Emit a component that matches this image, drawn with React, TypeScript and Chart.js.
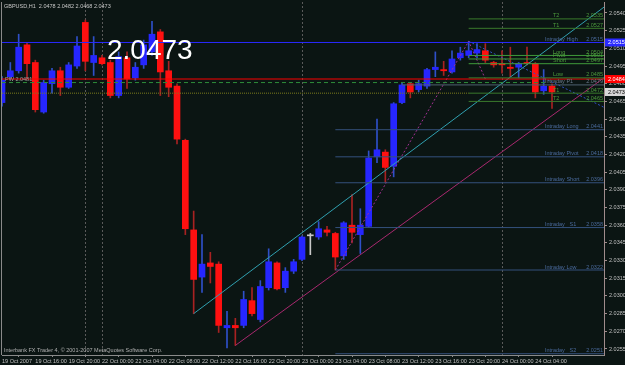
import React, { useEffect, useRef } from "react";
import { Chart, registerables } from "chart.js";
Chart.register(...registerables);

// ---------- data ----------
const xTickIndex = [0, 4, 8, 12, 16, 20, 24, 28, 32, 36, 40, 44, 48, 52, 56, 60, 64];
const xTickLabels = [
  "19 Oct 2007", "19 Oct 16:00", "19 Oct 20:00", "22 Oct 00:00", "22 Oct 04:00",
  "22 Oct 08:00", "22 Oct 12:00", "22 Oct 16:00", "22 Oct 20:00", "23 Oct 00:00",
  "23 Oct 04:00", "23 Oct 08:00", "23 Oct 12:00", "23 Oct 16:00", "23 Oct 20:00",
  "24 Oct 00:00", "24 Oct 04:00",
];
const yTicks = [
  2.0255, 2.027, 2.0285, 2.03, 2.0315, 2.033, 2.0345, 2.036, 2.0375, 2.039,
  2.0405, 2.042, 2.0435, 2.045, 2.0465, 2.048, 2.0495, 2.051, 2.0525, 2.054,
];

const opens = [
  2.0464, 2.0486, 2.0491, 2.0513, 2.0498, 2.0456, 2.0480, 2.0491, 2.0477, 2.0495,
  2.0532, 2.0498, 2.0502, 2.0498, 2.0470, 2.0502, 2.0485, 2.0496, 2.0507, 2.0524,
  2.0491, 2.0478, 2.0432, 2.0356, 2.0316, 2.0328, 2.0327, 2.0273, 2.0275, 2.0275,
  2.0296, 2.0280, 2.0307, 2.0328, 2.0307, 2.0321, 2.0331, 2.0351, 2.0350, 2.0356,
  2.0353, 2.0334, 2.0360, 2.0352, 2.0359, 2.0418, 2.0422, 2.0410, 2.0464, 2.0480,
  2.0475, 2.0478, 2.0492, 2.0492, 2.0490, 2.0502, 2.0504, 2.0506, 2.0508, 2.0498,
  2.0497, 2.0494, 2.0494, 2.0498, 2.0497, 2.0474, 2.0478,
];
const highs = [
  2.0486, 2.0498, 2.0522, 2.0515, 2.0500, 2.0483, 2.0493, 2.0494, 2.0498, 2.0520,
  2.0534, 2.0520, 2.0504, 2.0500, 2.0507, 2.0507, 2.0498, 2.0517, 2.0533, 2.0526,
  2.0499, 2.0480, 2.0433, 2.0372, 2.0352, 2.0337, 2.0329, 2.0287, 2.0281, 2.0304,
  2.0307, 2.0313, 2.0340, 2.0329, 2.0324, 2.0331, 2.0351, 2.0353, 2.0363, 2.0359,
  2.0354, 2.0363, 2.0386, 2.0374, 2.0423, 2.0450, 2.0424, 2.0464, 2.0481, 2.0481,
  2.0483, 2.0493, 2.0507, 2.0499, 2.0508, 2.0511, 2.0516, 2.0514, 2.0514, 2.0499,
  2.0508, 2.0511, 2.0498, 2.0511, 2.0498, 2.0492, 2.0480,
];
const lows = [
  2.0461, 2.0484, 2.0489, 2.0485, 2.0456, 2.0455, 2.0472, 2.0470, 2.0476, 2.0493,
  2.0491, 2.0487, 2.0496, 2.0468, 2.0468, 2.0476, 2.0483, 2.0493, 2.0504, 2.0470,
  2.0469, 2.0429, 2.0352, 2.0285, 2.0303, 2.0311, 2.0269, 2.0256, 2.0258, 2.0273,
  2.0283, 2.0278, 2.0305, 2.0305, 2.0303, 2.0319, 2.0330, 2.0335, 2.0348, 2.0351,
  2.0322, 2.0331, 2.0345, 2.0336, 2.0358, 2.0413, 2.0396, 2.0401, 2.0463, 2.0468,
  2.0473, 2.0476, 2.0486, 2.0487, 2.0489, 2.0500, 2.0502, 2.0502, 2.0498, 2.0494,
  2.0489, 2.0486, 2.0485, 2.0496, 2.0468, 2.0471, 2.0459,
];
const closes = [
  2.0483, 2.0491, 2.0511, 2.0497, 2.0458, 2.0481, 2.0491, 2.0477, 2.0496, 2.0512,
  2.0499, 2.0504, 2.0497, 2.0470, 2.0503, 2.0484, 2.0494, 2.0513, 2.0522, 2.0490,
  2.0477, 2.0433, 2.0357, 2.0314, 2.0327, 2.0325, 2.0275, 2.0275, 2.0273, 2.0297,
  2.0285, 2.0308, 2.0329, 2.0306, 2.0321, 2.0329, 2.0350, 2.0351, 2.0357, 2.0354,
  2.0333, 2.0362, 2.0354, 2.0360, 2.0417, 2.0424, 2.0409, 2.0463, 2.0479, 2.0473,
  2.0480, 2.0492, 2.0494, 2.0491, 2.0501, 2.0506, 2.0508, 2.0509, 2.0500, 2.0496,
  2.0496, 2.0493, 2.0497, 2.0497, 2.0473, 2.0478, 2.0473,
];

const separatorIdx = [10, 12, 36, 60];

const intradayHigh = 2.0515;
const redLevel = 2.0484;
const pivotDash = 2.0481;
const pivotDashLabel = "PW 2.0481";
const p1Level = 2.0479;
const oliveLevel = 2.0472;

const upperNames = ["T2", "T1", "Long", "Pivot", "Short", "Low", "T1", "T2"];
const upperValues = [2.0535, 2.0527, 2.0504, 2.0501, 2.0497, 2.0485, 2.0472, 2.0465];
const upperStart = 56;

const intradayNames = ["Intraday Long", "Intraday Pivot", "Intraday Short", "Intraday   S1", "Intraday Low", "Intraday   S2"];
const intradayValues = [2.0441, 2.0418, 2.0396, 2.0358, 2.0322, 2.0251];
const intradayStart = 40;

const cyanTrend = [[23, 2.0285], [72.24, 2.0545]];
const magentaTrend = [[28, 2.0258], [72.24, 2.0485]];
const zigzag = [[40, 2.0322], [56, 2.0516], [58, 2.0484]];
const blueDotted = [[56, 2.0516], [72.24, 2.046]];

const titleText = "GBPUSD,H1  2.0478 2.0482 2.0468 2.0473";
const copyrightText = "Interbank FX Trader 4, \u00A9 2001-2007 MetaQuotes Software Corp.";

// ---------- styling ----------
const X_MAX = 72.24;
const Y_MIN = 2.02499;
const Y_MAX = 2.054933;
const BG = "#0b1513";
const BULL = "#2626ff";
const BEAR = "#ff1010";
const DOJI = "#c8c8c8";
const BULL_WICK = "#2f50c8";
const BEAR_WICK = "#a82222";
const SMALL_FONT = '5.5px "Liberation Sans", Arial, sans-serif';
const AXIS_COLOR = "#a08c8c";
const TEXT_COLOR = "#c0c0c0";

const pts = (arr: number[][]) => arr.map(([x, y]) => ({ x, y }));

const lineDs = (data: any[], color: string, dash: number[] = [], width = 1) => ({
  type: "line" as const,
  data,
  borderColor: color,
  borderWidth: width,
  borderDash: dash,
  pointRadius: 0,
  tension: 0,
  fill: false,
  order: 1,
});

export default function App() {
  const ref = useRef<HTMLCanvasElement>(null);

  useEffect(() => {
    const canvas = ref.current;
    if (!canvas) return;
    const idx = opens.map((_, i) => i);
    const bodyColors = idx.map((i) => (closes[i] > opens[i] ? BULL : closes[i] < opens[i] ? BEAR : DOJI));
    const wickColors = idx.map((i) => (closes[i] > opens[i] ? BULL_WICK : closes[i] < opens[i] ? BEAR_WICK : DOJI));

    const datasets: any[] = [
      {
        type: "bar",
        data: idx.map((i) => ({ x: i, y: [lows[i], highs[i]] })),
        backgroundColor: wickColors,
        barThickness: 1,
        grouped: false,
        order: 3,
      },
      {
        type: "bar",
        data: idx.map((i) => ({ x: i, y: [opens[i], closes[i]] })),
        backgroundColor: bodyColors,
        barThickness: 6,
        minBarLength: 1,
        grouped: false,
        order: 2,
      },
      lineDs([{ x: 0, y: oliveLevel }, { x: upperStart, y: oliveLevel }], "#7d7d1c", [1, 1]),
      lineDs([{ x: 0, y: pivotDash }, { x: 65.5, y: pivotDash }], "#2e8b3a", [4, 3]),
      lineDs([{ x: 48, y: p1Level }, { x: X_MAX, y: p1Level }], "#4f6070"),
      ...intradayValues.map((v) => lineDs([{ x: intradayStart, y: v }, { x: X_MAX, y: v }], "#34507c")),
      ...upperValues.map((v, k) =>
        lineDs([{ x: upperStart, y: v }, { x: X_MAX, y: v }], k >= 2 && k <= 4 ? "#3f9a3a" : "#3a7a2c")
      ),
      lineDs([{ x: 0, y: intradayHigh }, { x: X_MAX, y: intradayHigh }], "#2a2aff"),
      lineDs([{ x: 0, y: redLevel }, { x: X_MAX, y: redLevel }], "#ff0000"),
      lineDs(pts(cyanTrend), "#30a0b0"),
      lineDs(pts(magentaTrend), "#a8286e"),
      lineDs(pts(zigzag), "#a03090", [2, 2]),
      lineDs(pts(blueDotted), "#3050c8", [2, 2]),
    ];

    const overlay = {
      id: "overlay",
      beforeDraw(chart: any) {
        const c = chart.ctx;
        c.save();
        c.fillStyle = BG;
        c.fillRect(0, 0, chart.width, chart.height);
        c.restore();
      },
      beforeDatasetsDraw(chart: any) {
        const c = chart.ctx;
        const { top, bottom } = chart.chartArea;
        const xs = chart.scales.x;
        c.save();
        c.strokeStyle = "#5a5a5a";
        c.lineWidth = 1;
        c.setLineDash([2, 2]);
        separatorIdx.forEach((i) => {
          const x = Math.round(xs.getPixelForValue(i)) + 0.5;
          c.beginPath();
          c.moveTo(x, top);
          c.lineTo(x, bottom);
          c.stroke();
        });
        c.restore();
      },
      afterDatasetsDraw(chart: any) {
        const c = chart.ctx;
        const ys = chart.scales.y;
        const xs = chart.scales.x;
        const right = chart.chartArea.right;
        c.save();
        c.font = SMALL_FONT;
        c.textBaseline = "alphabetic";
        const label = (name: string, v: number, color: string, nameX: number) => {
          const y = ys.getPixelForValue(v) - 1.5;
          c.fillStyle = color;
          c.textAlign = "left";
          c.fillText(name, nameX, y);
          c.textAlign = "right";
          c.fillText(v.toFixed(4), right - 1, y);
        };
        upperNames.forEach((n, k) => label(n, upperValues[k], "#4c9a3c", right - 51));
        intradayNames.forEach((n, k) => label(n, intradayValues[k], "#4a6a9c", right - 59));
        label("Intraday High", intradayHigh, "#4a6a9c", right - 59);
        label("Intraday P1", p1Level, "#6a7a8a", right - 59);
        c.textAlign = "left";
        c.fillStyle = "#a0a0a0";
        c.fillText(pivotDashLabel, xs.getPixelForValue(0) + 3, ys.getPixelForValue(pivotDash) - 1.5);
        c.restore();
      },
      afterDraw(chart: any) {
        const c = chart.ctx;
        const ys = chart.scales.y;
        const { left, top, right, bottom } = chart.chartArea;
        c.save();
        c.strokeStyle = "#8a8a8a";
        c.lineWidth = 1;
        c.beginPath();
        c.moveTo(left - 0.5, top);
        c.lineTo(left - 0.5, bottom);
        c.stroke();
        const last = closes[closes.length - 1];
        const boxes: [number, string, string][] = [
          [intradayHigh, "#2a2aff", "#ffffff"],
          [redLevel, "#ff0000", "#ffffff"],
          [last, "#d8d8d8", "#000000"],
        ];
        c.font = SMALL_FONT;
        c.textBaseline = "middle";
        c.textAlign = "left";
        boxes.forEach(([v, bg, fg]) => {
          const y = ys.getPixelForValue(v);
          c.fillStyle = bg;
          c.fillRect(right + 1, y - 4, 20, 8);
          c.fillStyle = fg;
          c.fillText(v.toFixed(4), right + 4, y + 0.5);
        });
        c.fillStyle = "#c8c8c8";
        c.fillText(titleText, left + 2, top + 4);
        c.fillStyle = "#b0b0b0";
        c.fillText(copyrightText, left + 2, bottom - 5);
        c.font = '28px "Liberation Sans", Arial, sans-serif';
        c.textBaseline = "alphabetic";
        c.fillStyle = "#ffffff";
        c.fillText(last.toFixed(4), 107, 58.5);
        c.restore();
      },
    };

    const chart = new Chart(canvas, {
      type: "bar",
      data: { datasets },
      options: {
        animation: false,
        responsive: false,
        devicePixelRatio: 1,
        layout: { padding: { left: 2, top: 2, right: 0, bottom: 0 } },
        plugins: { legend: { display: false }, tooltip: { enabled: false } },
        events: [],
        scales: {
          x: {
            type: "linear",
            min: 0,
            max: X_MAX,
            offset: false,
            grid: { drawOnChartArea: false, drawTicks: true, tickLength: 2, color: "#8a8a8a" },
            border: { display: true, color: "#8a8a8a" },
            ticks: {
              autoSkip: false,
              maxRotation: 0,
              minRotation: 0,
              align: "start",
              padding: 1,
              color: TEXT_COLOR,
              font: { size: 5.5, family: '"Liberation Sans", Arial, sans-serif' },
              callback: (v: any) => {
                const k = xTickIndex.indexOf(Number(v));
                return k >= 0 ? xTickLabels[k] : "";
              },
            },
            afterBuildTicks: (s: any) => {
              s.ticks = xTickIndex.map((v) => ({ value: v }));
            },
            afterFit: (s: any) => {
              s.height = 10;
              s.paddingLeft = 0;
              s.paddingRight = 0;
            },
          },
          y: {
            type: "linear",
            position: "right",
            min: Y_MIN,
            max: Y_MAX,
            grid: { drawOnChartArea: false, drawTicks: true, tickLength: 3, color: AXIS_COLOR },
            border: { display: true, color: AXIS_COLOR },
            ticks: {
              padding: 2,
              color: TEXT_COLOR,
              font: { size: 5.5, family: '"Liberation Sans", Arial, sans-serif' },
              callback: (v: any) => Number(v).toFixed(4),
            },
            afterBuildTicks: (s: any) => {
              s.ticks = yTicks.map((v) => ({ value: v }));
            },
            afterFit: (s: any) => {
              s.width = 21;
              s.paddingTop = 0;
              s.paddingBottom = 0;
            },
          },
        },
      } as any,
      plugins: [overlay],
    });
    return () => chart.destroy();
  }, []);

  return (
    <div style={{ position: "fixed", left: 0, top: 0, width: 625, height: 365, background: BG }}>
      <canvas ref={ref} width={625} height={365} style={{ display: "block" }} />
    </div>
  );
}
